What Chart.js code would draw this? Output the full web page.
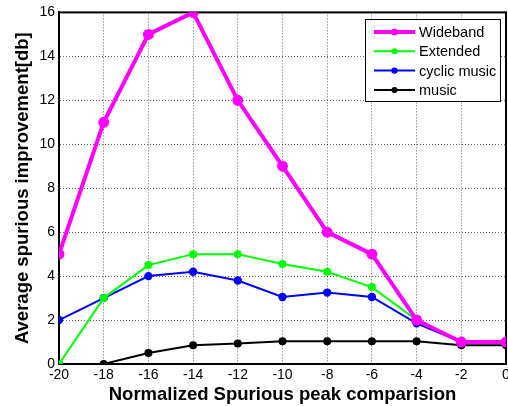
<!DOCTYPE html>
<html>
<head>
<meta charset="utf-8">
<script src="https://cdn.jsdelivr.net/npm/chart.js@4"></script>
<style>
  body { margin: 0; background: #fff; }
  canvas { display: block; }
</style>
</head>
<body>
<canvas id="spurChart" width="508" height="406"></canvas>
<script>
// peak levels (x axis)
const peaks = [-20, -18, -16, -14, -12, -10, -8, -6, -4, -2, 0];
const wideband = [5, 11, 15, 16, 12, 9, 6, 5, 2, 1, 1];
const extended = [0, 3, 4.5, 5, 5, 4.55, 4.2, 3.5, 2, 1, 1];
const cyclicMusic = [2, 3, 4, 4.2, 3.8, 3.05, 3.25, 3.05, 1.85, 1, 1];
const music = [0, 0, 0.5, 0.85, 0.93, 1.03, 1.03, 1.03, 1.03, 0.85, 0.85];
const yTicks = [0, 2, 4, 6, 8, 10, 12, 14, 16];

const pts = arr => arr.map((v, i) => ({ x: peaks[i], y: v }));

const fontFam = '"Liberation Sans", Arial, sans-serif';
const tickFont = { family: fontFam, size: 14 };
const titleFont = { family: fontFam, size: 18.5, weight: 'bold' };

// legend box inside the plot, like the matlab one
const boxLegend = {
    id: 'boxLegend',
    afterDraw(chart) {
        const c = chart.ctx;
        const x0 = 365, y0 = 19, w = 135, h = 82;
        c.save();
        c.fillStyle = '#fff';
        c.fillRect(x0, y0, w, h);
        c.strokeStyle = '#000';
        c.lineWidth = 1;
        c.strokeRect(x0 + 0.5, y0 + 0.5, w, h);
        c.font = '14.5px ' + fontFam;
        c.textBaseline = 'middle';
        chart.data.datasets.forEach((ds, i) => {
            const y = y0 + 13 + i * 19.3;
            c.strokeStyle = ds.borderColor;
            c.lineWidth = ds.borderWidth;
            c.beginPath();
            c.moveTo(x0 + 9, y);
            c.lineTo(x0 + 50, y);
            c.stroke();
            c.fillStyle = ds.borderColor;
            c.beginPath();
            c.arc(x0 + 29.5, y, ds.pointRadius, 0, Math.PI * 2);
            c.fill();
            c.fillStyle = '#000';
            c.fillText(ds.label, x0 + 54, y + 1);
        });
        c.restore();
    }
};

// solid box round the plot area
const frame = {
    id: 'frame',
    beforeDatasetsDraw(chart) {
        const a = chart.chartArea, c = chart.ctx;
        c.save();
        c.strokeStyle = '#000';
        c.lineWidth = 2;
        c.strokeRect(a.left, a.top, a.right - a.left, a.bottom - a.top);
        c.restore();
    }
};

const ctx = document.getElementById('spurChart').getContext('2d');
new Chart(ctx, {
    type: 'line',
    data: {
        datasets: [
            { label: 'Wideband', data: pts(wideband), borderColor: '#ff00ff', backgroundColor: '#ff00ff', borderWidth: 4, pointRadius: 3.5 },
            { label: 'Extended', data: pts(extended), borderColor: '#00ff00', backgroundColor: '#00ff00', borderWidth: 2, pointRadius: 3 },
            { label: 'cyclic music', data: pts(cyclicMusic), borderColor: '#0000ff', backgroundColor: '#0000ff', borderWidth: 2, pointRadius: 3.2 },
            { label: 'music', data: pts(music), borderColor: '#000000', backgroundColor: '#000000', borderWidth: 2, pointRadius: 3 }
        ]
    },
    options: {
        responsive: false,
        animation: false,
        layout: { autoPadding: false, padding: { top: 12, right: 2, left: 12, bottom: 0 } },
        plugins: { legend: { display: false }, tooltip: { enabled: false } },
        elements: { line: { tension: 0 }, point: { borderWidth: 0 } },
        scales: {
            x: {
                type: 'linear',
                min: -20, max: 0,
                afterFit: s => { s.height = 42; s.paddingRight = 0; },
                ticks: { stepSize: 2, color: '#000', padding: 3, font: tickFont },
                grid: { color: 'rgba(0,0,0,0.6)', drawTicks: false, tickLength: 0 },
                border: { display: true, color: '#000', width: 2, dash: [1, 2] },
                title: {
                    display: true, text: 'Normalized Spurious peak comparision', color: '#000',
                    font: titleFont, padding: { top: 0, bottom: 0 }
                }
            },
            y: {
                min: 0, max: 16,
                afterFit: s => { s.width = 47; },
                afterBuildTicks: s => { s.ticks = yTicks.map(v => ({ value: v })); },
                ticks: { color: '#000', padding: 4, font: tickFont },
                grid: { color: 'rgba(0,0,0,0.6)', drawTicks: false, tickLength: 0 },
                border: { display: true, color: '#000', width: 2, dash: [1, 2] },
                title: {
                    display: true, text: 'Average spurious improvement[db]', color: '#000',
                    font: titleFont, padding: { top: 0, bottom: 2 }
                }
            }
        }
    },
    plugins: [boxLegend, frame]
});
</script>
</body>
</html>
